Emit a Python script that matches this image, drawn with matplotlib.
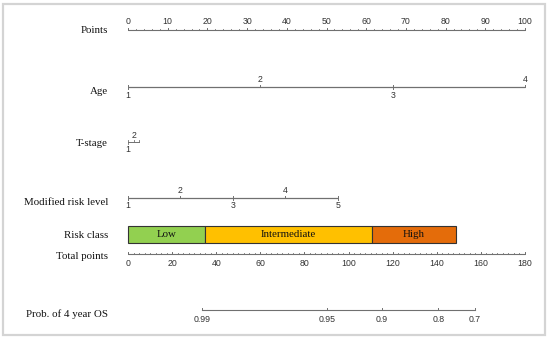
import numpy as np
import matplotlib
matplotlib.use("Agg")
import matplotlib.pyplot as plt
from matplotlib.patches import Rectangle

# --- data (points scale 0-100, total points scale 0-180) ---
row_labels = ["Points", "Age", "T-stage", "Modified risk level",
              "Risk class", "Total points", "Prob. of 4 year OS"]

points_ticks = list(range(0, 101, 10))

age_levels = ["1", "2", "3", "4"]
age_points = [0, 33.3, 66.7, 100]

tstage_levels = ["1", "2", ""]
tstage_points = [0, 1.5, 2.7]

mrl_levels = ["1", "2", "3", "4", "5"]
mrl_points = [0, 13.2, 26.4, 39.6, 52.9]

risk_classes = ["Low", "Intermediate", "High"]
risk_bounds = [0, 35, 110.5, 148.5]          # in total points
risk_colors = ["#92d050", "#ffc000", "#e46c0a"]

total_ticks = list(range(0, 181, 20))
TOTAL_MAX = 180

prob_labels = ["0.99", "0.95", "0.9", "0.8", "0.7"]
prob_total = [33.7, 90.1, 115.0, 140.7, 157.3]   # in total points

# --- layout (pixel rows) ---
W, H = 550, 339
X0, X1 = 128, 525
row_y = {"points": 30, "age": 87, "tstage": 142, "mrl": 198,
         "risk": 234.5, "total": 254, "prob": 310}

LINE = "#707070"
TXT = "#333333"
TICK_FS = 6.3
LAB_FS = 7.8
serif = ["Liberation Serif", "DejaVu Serif"]
sans = ["Liberation Sans", "DejaVu Sans"]

fig = plt.figure(figsize=(W / 100, H / 100), dpi=100)
ax = fig.add_axes([0, 0, 1, 1])
scale = 100 / (X1 - X0)
ax.set_xlim(-X0 * scale, (W - X0) * scale)
ax.set_ylim(H, 0)
ax.axis("off")

# light frame around the whole picture
fig.patches.append(Rectangle((0.006, 0.012), 0.985, 0.975, transform=fig.transFigure,
                             fill=False, edgecolor="#d4d4d4", lw=1.6))


def tp(v):
    return np.asarray(v) * 100 / TOTAL_MAX


def label_row(y, text, dy=1.5):
    ax.text(-20 * scale, y + dy, text, ha="right", va="center",
            fontsize=LAB_FS, family=serif, color="#111111")


def tick_label(x, y, text):
    ax.text(x, y, text, ha="center", va="center", fontsize=TICK_FS,
            family=sans, color=TXT)


def level_row(y, xs, labels):
    # categorical axis, labels alternate below / above
    ax.plot([min(xs), max(xs)], [y, y], color=LINE, lw=0.9, solid_capstyle="butt")
    for i, (x, lab) in enumerate(zip(xs, labels)):
        above = (i % 2 == 1)
        ax.plot([x, x], [y - 2.5, y] if above else [y - 2, y + 1.5], color=LINE, lw=0.7)
        tick_label(x, y - 7.5 if above else y + 8, lab)


def scale_row(y, xs, labels, label_dy, minor):
    ax.plot([min(xs), max(xs)], [y, y], color=LINE, lw=0.8, solid_capstyle="butt")
    for m in minor:
        ax.plot([m, m], [y, y - 1.2], color=LINE, lw=0.6)
    for x, lab in zip(xs, labels):
        ax.plot([x, x], [y, y - 2.4], color=LINE, lw=0.7)
        tick_label(x, y + label_dy, lab)


# Points
label_row(row_y["points"], row_labels[0], dy=0.5)
scale_row(row_y["points"], points_ticks, [str(t) for t in points_ticks], -8.5,
          np.arange(0, 101, 2))

# Age
label_row(row_y["age"], row_labels[1], dy=4)
level_row(row_y["age"], age_points, age_levels)

# T-stage
label_row(row_y["tstage"], row_labels[2], dy=1.5)
y = row_y["tstage"]
ax.plot([tstage_points[0], tstage_points[-1]], [y, y], color=LINE, lw=0.7)
for i, (x, lab) in enumerate(zip(tstage_points, tstage_levels)):
    ax.plot([x, x], [y - 2, y + (1.5 if i == 0 else 0)], color=LINE, lw=0.6)
    if lab:
        tick_label(x, y + (-7 if i % 2 else 7), lab)

# Modified risk level
label_row(row_y["mrl"], row_labels[3], dy=4.5)
level_row(row_y["mrl"], mrl_points, mrl_levels)

# Risk class bar
label_row(row_y["risk"], row_labels[4], dy=0.5)
for lo, hi, name, col in zip(risk_bounds[:-1], risk_bounds[1:], risk_classes, risk_colors):
    ax.add_patch(Rectangle((tp(lo), 226), tp(hi) - tp(lo), 17, facecolor=col,
                           edgecolor="#333333", lw=0.8))
    ax.text((tp(lo) + tp(hi)) / 2, row_y["risk"], name, ha="center", va="center",
            fontsize=LAB_FS, family=serif, color="#111111")

# Total points
label_row(row_y["total"], row_labels[5], dy=2.5)
scale_row(row_y["total"], tp(total_ticks), [str(t) for t in total_ticks], 9,
          tp(np.arange(0, 181, 2.5)))

# Probability of 4 year OS
label_row(row_y["prob"], row_labels[6], dy=4)
y = row_y["prob"]
ax.plot([tp(prob_total[0]), tp(prob_total[-1])], [y, y], color=LINE, lw=0.8)
for x, lab in zip(tp(prob_total), prob_labels):
    ax.plot([x, x], [y, y - 2.4], color=LINE, lw=0.7)
    tick_label(x, y + 9, lab)

fig.savefig("out.png", dpi=100)
